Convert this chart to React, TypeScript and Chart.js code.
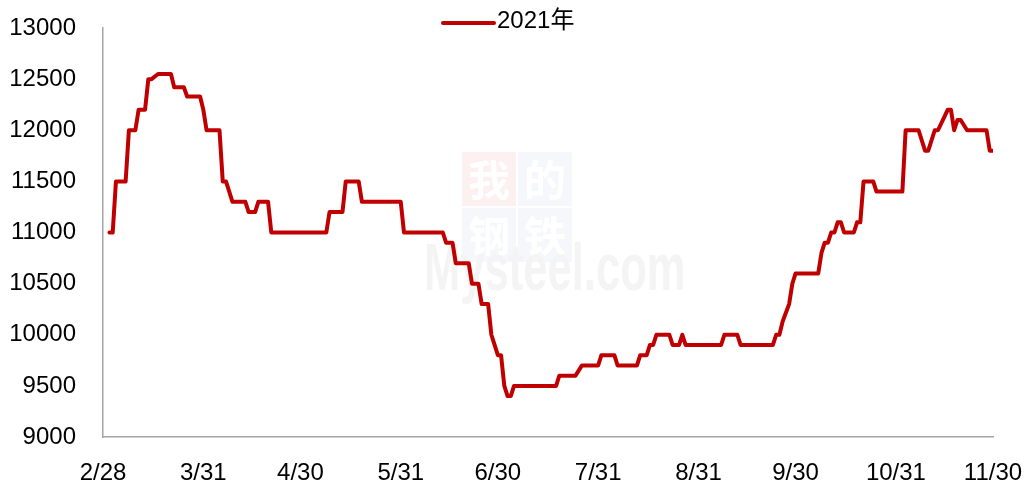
import React, { useEffect, useRef } from "react";
import { Chart, registerables } from "chart.js";

Chart.register(...registerables);

const seriesName = "2021年";
const baseDate = "2/28";

const pointDates = [
  "3/2", "3/3", "3/4", "3/7", "3/8", "3/10", "3/11", "3/13", "3/14", "3/15",
  "3/17", "3/21", "3/22", "3/25", "3/26", "3/30", "3/31", "4/1", "4/5", "4/6",
  "4/7", "4/9", "4/13", "4/14", "4/16", "4/17", "4/20", "4/21", "5/8", "5/9",
  "5/13", "5/14", "5/18", "5/19", "5/31", "6/1", "6/13", "6/14", "6/16", "6/17",
  "6/21", "6/22", "6/24", "6/25", "6/27", "6/28", "6/29", "6/30", "7/1", "7/2",
  "7/3", "7/4", "7/5", "7/18", "7/19", "7/24", "7/26", "7/31", "8/1", "8/5",
  "8/6", "8/12", "8/13", "8/15", "8/16", "8/17", "8/18", "8/22", "8/23", "8/25",
  "8/26", "8/27", "9/7", "9/8", "9/12", "9/13", "9/23", "9/24", "9/25", "9/26",
  "9/28", "9/29", "9/30", "10/7", "10/8", "10/9", "10/10", "10/11", "10/12", "10/13",
  "10/14", "10/15", "10/18", "10/19", "10/20", "10/21", "10/24", "10/25", "11/2", "11/3",
  "11/7", "11/9", "11/10", "11/12", "11/13", "11/16", "11/17", "11/18", "11/19", "11/20",
  "11/22", "11/28", "11/29", "11/30",
];

const pointValues = [
  11000, 11000, 11500, 11500, 12000, 12000, 12200, 12200, 12500, 12500,
  12550, 12550, 12420, 12420, 12330, 12330, 12200, 12000, 12000, 11500,
  11500, 11300, 11300, 11200, 11200, 11300, 11300, 11000, 11000, 11200,
  11200, 11500, 11500, 11300, 11300, 11000, 11000, 10900, 10900, 10700,
  10700, 10500, 10500, 10300, 10300, 10000, 9900, 9800, 9800, 9500,
  9400, 9400, 9500, 9500, 9600, 9600, 9700, 9700, 9800, 9800,
  9700, 9700, 9800, 9800, 9900, 9900, 10000, 10000, 9900, 9900,
  10000, 9900, 9900, 10000, 10000, 9900, 9900, 10000, 10000, 10130,
  10300, 10500, 10600, 10600, 10800, 10900, 10900, 11000, 11000, 11100,
  11100, 11000, 11000, 11100, 11100, 11500, 11500, 11400, 11400, 12000,
  12000, 11800, 11800, 12000, 12000, 12200, 12200, 12000, 12100, 12100,
  12000, 12000, 11800, 11800,
];

const tickDates = ["2/28", "3/31", "4/30", "5/31", "6/30", "7/31", "8/31", "9/30", "10/31", "11/30"];

const yMin = 9000;
const yMax = 13000;
const yStep = 500;

const lineColor = "#C00000";
const axisColor = "#A6A6A6";
const fontFamily = "'Liberation Sans', Arial, 'Noto Sans CJK SC', sans-serif";

function dayIndex(md: string): number {
  const [m, d] = md.split("/").map(Number);
  const [bm, bd] = baseDate.split("/").map(Number);
  return Math.round((Date.UTC(2021, m - 1, d) - Date.UTC(2021, bm - 1, bd)) / 86400000);
}

const watermarkPlugin = {
  id: "watermark",
  beforeDatasetsDraw(chart: any) {
    const { ctx } = chart;
    ctx.save();
    const bx = 462;
    const by = 152;
    const s = 54;
    const cells = [
      { t: "我", x: bx, y: by, bg: "#FCF0F0" },
      { t: "的", x: bx + s + 2, y: by, bg: "#F5F7FA" },
      { t: "钢", x: bx, y: by + s + 2, bg: "#F5F7FA" },
      { t: "铁", x: bx + s + 2, y: by + s + 2, bg: "#F5F7FA" },
    ];
    ctx.textAlign = "center";
    ctx.textBaseline = "middle";
    ctx.font = "bold 42px 'Noto Sans CJK SC', sans-serif";
    for (const c of cells) {
      ctx.fillStyle = c.bg;
      ctx.fillRect(c.x, c.y, s, s);
      ctx.fillStyle = "#FFFFFF";
      ctx.fillText(c.t, c.x + s / 2, c.y + s / 2 + 1);
    }
    ctx.textAlign = "left";
    ctx.textBaseline = "alphabetic";
    ctx.font = "bold 66px 'Liberation Sans', Arial, sans-serif";
    ctx.fillStyle = "#F4F4F4";
    ctx.translate(424, 290);
    ctx.scale(0.66, 1);
    ctx.fillText("Mysteel.com", 0, 0);
    ctx.restore();
  },
};

const legendPlugin = {
  id: "customLegend",
  afterDraw(chart: any) {
    const { ctx } = chart;
    ctx.save();
    ctx.strokeStyle = lineColor;
    ctx.lineWidth = 4;
    ctx.lineCap = "round";
    ctx.beginPath();
    ctx.moveTo(443, 23);
    ctx.lineTo(494, 23);
    ctx.stroke();
    ctx.fillStyle = "#000000";
    ctx.font = "24px " + fontFamily;
    ctx.textAlign = "left";
    ctx.textBaseline = "middle";
    ctx.fillText(seriesName, 497, 21);
    ctx.restore();
  },
};

export default function App() {
  const canvasRef = useRef<HTMLCanvasElement | null>(null);

  useEffect(() => {
    if (!canvasRef.current) return;
    const data = pointDates.map((d, i) => ({ x: dayIndex(d), y: pointValues[i] }));
    const tickValues = tickDates.map(dayIndex);
    const chart = new Chart(canvasRef.current, {
      type: "line",
      data: {
        datasets: [
          {
            label: seriesName,
            data,
            borderColor: lineColor,
            backgroundColor: lineColor,
            borderWidth: 4,
            pointRadius: 0,
            tension: 0,
            borderJoinStyle: "round",
            borderCapStyle: "round",
          },
        ],
      },
      options: {
        animation: false,
        responsive: false,
        maintainAspectRatio: false,
        devicePixelRatio: 1,
        layout: { padding: { top: 28, right: 38, left: 0, bottom: 0 } },
        plugins: {
          legend: { display: false },
          tooltip: { enabled: false },
        },
        scales: {
          x: {
            type: "linear",
            min: tickValues[0],
            max: tickValues[tickValues.length - 1],
            grid: { display: false, drawTicks: false },
            border: { display: true, color: axisColor, width: 1.5 },
            afterBuildTicks: (scale: any) => {
              scale.ticks = tickValues.map((v) => ({ value: v }));
            },
            afterFit: (scale: any) => {
              scale.height = 46;
              scale.paddingLeft = 0;
              scale.paddingRight = 0;
            },
            ticks: {
              autoSkip: false,
              maxRotation: 0,
              padding: 22,
              color: "#000000",
              font: { family: fontFamily, size: 24 },
              callback: (value: any) => {
                const idx = tickValues.indexOf(Number(value));
                return idx >= 0 ? tickDates[idx] : "";
              },
            },
          },
          y: {
            min: yMin,
            max: yMax,
            grid: { display: false, drawTicks: false },
            border: { display: true, color: axisColor, width: 1.5 },
            afterFit: (scale: any) => {
              scale.width = 103;
              scale.paddingTop = 0;
              scale.paddingBottom = 0;
            },
            ticks: {
              stepSize: yStep,
              padding: 27,
              color: "#000000",
              font: { family: fontFamily, size: 24 },
              callback: (value: any) => String(value),
            },
          },
        },
      },
      plugins: [watermarkPlugin, legendPlugin],
    } as any);
    return () => chart.destroy();
  }, []);

  return (
    <div style={{ position: "fixed", left: 0, top: 0, width: 1031, height: 483, background: "#FFFFFF" }}>
      <canvas ref={canvasRef} width={1031} height={483} style={{ width: 1031, height: 483 }} />
    </div>
  );
}
